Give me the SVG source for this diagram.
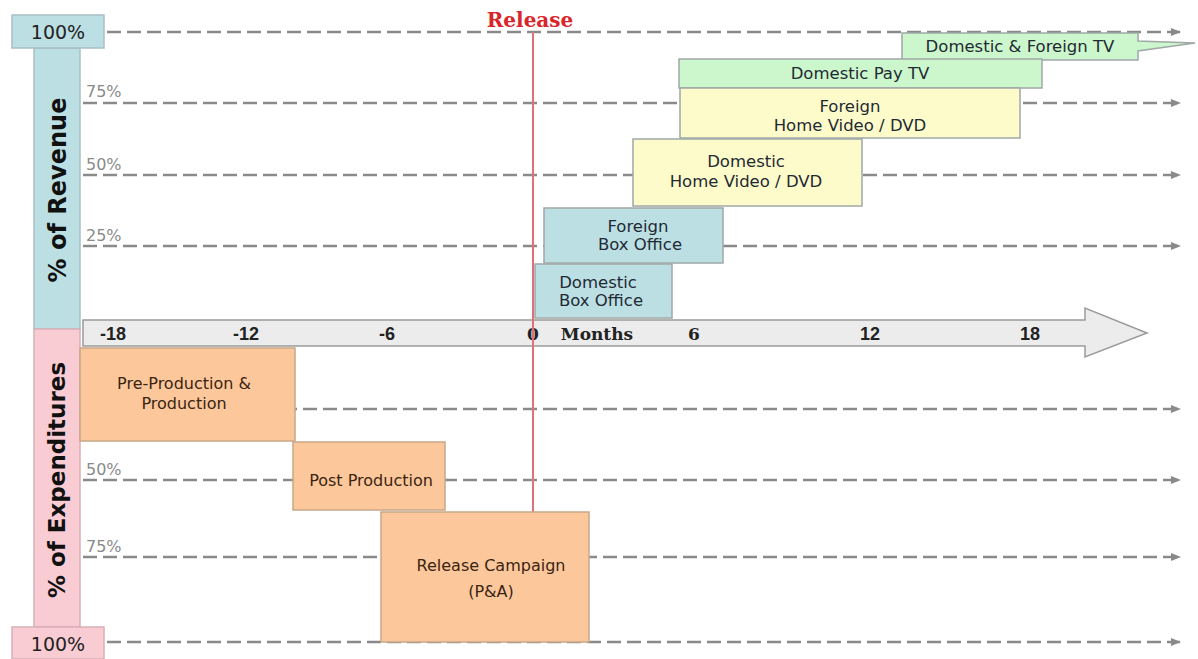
<svg xmlns="http://www.w3.org/2000/svg" width="1198" height="659" viewBox="0 0 1198 659">
<defs>
<marker id="ah" markerWidth="10" markerHeight="10" refX="9" refY="5" orient="auto" markerUnits="userSpaceOnUse">
<path d="M0,1 L10,5 L0,9 Z" fill="#8a8a8a"/>
</marker>
<style>
.dash{stroke:#8a8a8a;stroke-width:2.5;stroke-dasharray:14 6;fill:none}
.pct{font-family:"DejaVu Sans",sans-serif;font-size:16px;fill:#8a8a8a}
.box{stroke:#a0a8a8;stroke-width:1.5}
.blue{fill:#bcdfe3}
.green{fill:#ccf6cc}
.yellow{fill:#fefbcb}
.orange{fill:#fcc89b;stroke:#c8a888}
.lbl{font-family:"DejaVu Sans",sans-serif;font-size:16.5px;fill:#1f2a33;text-anchor:middle}
.olbl{font-family:"DejaVu Sans",sans-serif;font-size:16px;fill:#3a2412;text-anchor:middle}
.tick{font-family:"Liberation Sans",sans-serif;font-size:18px;font-weight:bold;fill:#222;text-anchor:middle}
.stick{font-family:"DejaVu Serif",serif;font-size:17px;font-weight:bold;fill:#222;text-anchor:middle}
.vert{font-family:"DejaVu Sans",sans-serif;font-weight:bold;fill:#111;text-anchor:middle}
.hund{font-family:"DejaVu Sans",sans-serif;font-size:19px;fill:#222;text-anchor:middle}
</style>
</defs>
<rect width="1198" height="659" fill="#ffffff"/>

<g id="connectors">
<line class="dash" x1="107" y1="32" x2="1180" y2="32" marker-end="url(#ah)"/>
<line class="dash" x1="83" y1="103" x2="1180" y2="103" marker-end="url(#ah)"/>
<line class="dash" x1="83" y1="175" x2="1180" y2="175" marker-end="url(#ah)"/>
<line class="dash" x1="83" y1="246" x2="1180" y2="246" marker-end="url(#ah)"/>
<line class="dash" x1="83" y1="409" x2="1180" y2="409" marker-end="url(#ah)"/>
<line class="dash" x1="83" y1="480" x2="1180" y2="480" marker-end="url(#ah)"/>
<line class="dash" x1="83" y1="557" x2="1180" y2="557" marker-end="url(#ah)"/>
<line class="dash" x1="107" y1="642" x2="1180" y2="642" marker-end="url(#ah)"/>
</g>

<g id="axis-labels">
<text class="pct" x="86" y="97">75%</text>
<text class="pct" x="86" y="170">50%</text>
<text class="pct" x="86" y="241">25%</text>
<text class="pct" x="86" y="475">50%</text>
<text class="pct" x="86" y="552">75%</text>
</g>

<g id="revenue-axis">
<rect x="34" y="48" width="46" height="281" fill="#bcdfe3" stroke="#a8c0c4" stroke-width="1.5"/>
<rect x="12" y="15" width="92" height="33" fill="#bcdfe3" stroke="#a8c0c4" stroke-width="1.5"/>
<text class="hund" x="58" y="39">100%</text>
<text class="vert" font-size="24" transform="translate(66,190) rotate(-90)">% of Revenue</text>
</g>

<g id="expenditure-axis">
<rect x="34" y="329" width="46" height="298" fill="#f9ccd3" stroke="#d8b0b6" stroke-width="1.5"/>
<rect x="12" y="627" width="92" height="32" fill="#f9ccd3" stroke="#d8b0b6" stroke-width="1.5"/>
<text class="hund" x="58" y="651">100%</text>
<text class="vert" font-size="23" transform="translate(65,480) rotate(-90)">% of Expenditures</text>
</g>

<g id="timeline">
<path d="M83,320 H1085 V308 L1147,333 L1085,357 V346 H83 Z" fill="#ececec" stroke="#9a9a9a" stroke-width="1.5"/>
<text class="tick" x="113" y="340">-18</text>
<text class="tick" x="246" y="340">-12</text>
<text class="tick" x="387" y="340">-6</text>
<text class="stick" x="533" y="340">0</text>
<text class="stick" x="597" y="340">Months</text>
<text class="stick" x="694" y="340">6</text>
<text class="tick" x="870" y="340">12</text>
<text class="tick" x="1030" y="340">18</text>
</g>

<g id="release">
<line x1="533" y1="32" x2="533" y2="512" stroke="#e0707a" stroke-width="2"/>
<text x="530" y="27" font-family="DejaVu Serif,serif" font-size="20" font-weight="bold" fill="#d9262a" text-anchor="middle">Release</text>
</g>

<g id="domestic-foreign-tv">
<path class="box green" d="M902,33 H1138 V41 L1195,43 L1138,51 V60 H902 Z"/>
<text class="lbl" x="1020" y="52">Domestic &amp; Foreign TV</text>
</g>

<g id="domestic-pay-tv">
<rect class="box green" x="679" y="59" width="363" height="29"/>
<text class="lbl" x="860" y="79">Domestic Pay TV</text>
</g>

<g id="foreign-home-video">
<rect class="box yellow" x="680" y="88" width="340" height="50"/>
<text class="lbl" x="850" y="112">Foreign</text>
<text class="lbl" x="850" y="131">Home Video / DVD</text>
</g>

<g id="domestic-home-video">
<rect class="box yellow" x="633" y="139" width="229" height="67"/>
<text class="lbl" x="746" y="167">Domestic</text>
<text class="lbl" x="746" y="187">Home Video / DVD</text>
</g>

<g id="foreign-box-office">
<rect class="box blue" x="544" y="208" width="179" height="55"/>
<text class="lbl" x="638" y="232">Foreign</text>
<text class="lbl" x="640" y="250">Box Office</text>
</g>

<g id="domestic-box-office">
<rect class="box blue" x="535" y="264" width="137" height="54"/>
<text class="lbl" x="598" y="288">Domestic</text>
<text class="lbl" x="601" y="306">Box Office</text>
</g>

<g id="pre-production">
<rect class="box orange" x="80" y="348" width="215" height="93"/>
<text class="olbl" x="184" y="389">Pre-Production &amp;</text>
<text class="olbl" x="184" y="409">Production</text>
</g>

<g id="post-production">
<rect class="box orange" x="293" y="442" width="152" height="68"/>
<text class="olbl" x="371" y="486">Post Production</text>
</g>

<g id="release-campaign">
<rect class="box orange" x="381" y="512" width="208" height="130"/>
<text class="olbl" x="491" y="571">Release Campaign</text>
<text class="olbl" x="491" y="597">(P&amp;A)</text>
</g>
</svg>
